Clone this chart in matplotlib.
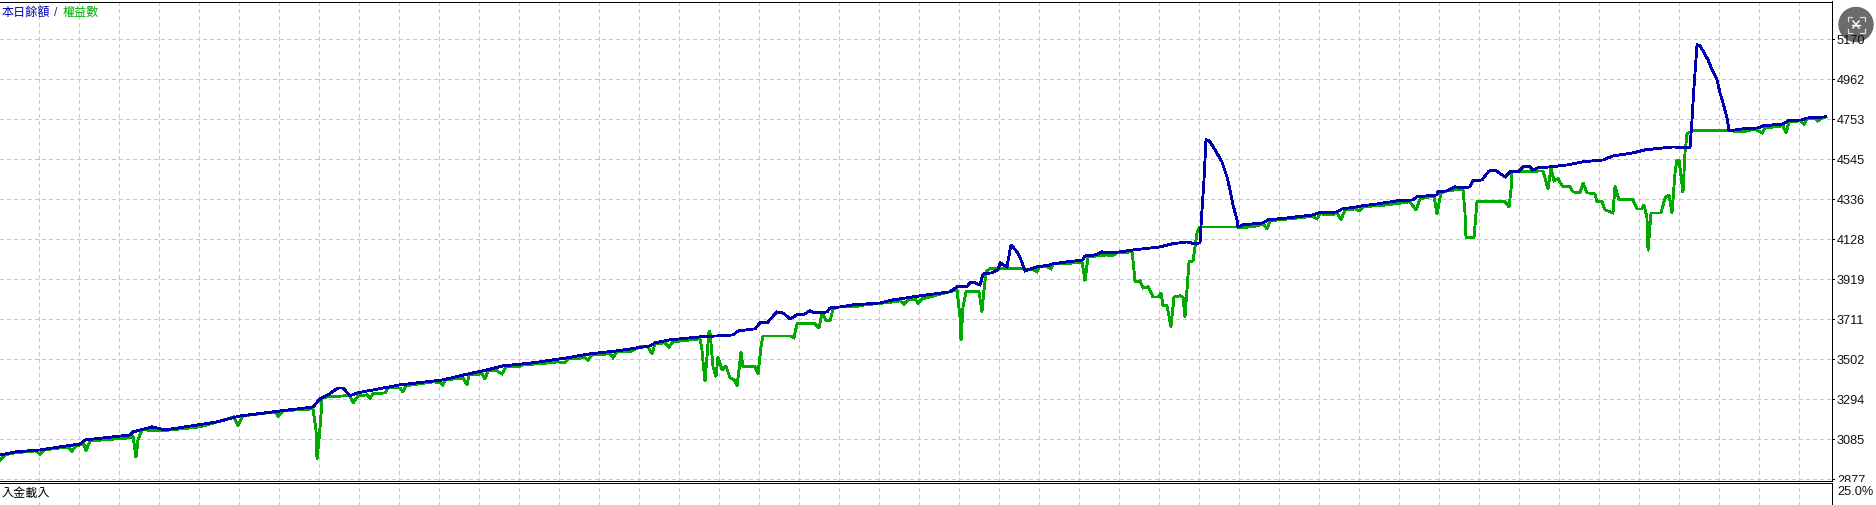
import matplotlib
matplotlib.use("Agg")
import matplotlib.pyplot as plt
from matplotlib.patches import Circle
from matplotlib.transforms import Bbox

W, H = 1876, 505

# balance curve (blue)
balance_x = [0, 16, 40, 60, 80, 85, 130, 133, 152, 165, 217, 240, 290, 313, 320, 328, 338, 343, 350, 357,
             400, 443, 468, 487, 503, 533, 567, 590, 617, 650, 655, 670, 700, 733, 738, 755, 760, 767, 777, 783,
             790, 797, 803, 810, 815, 827, 830, 840, 853, 880, 893, 920, 950, 957, 967, 970, 975, 980, 983, 992,
             998, 1000, 1007, 1011, 1017, 1021, 1025, 1037, 1050, 1052, 1067, 1083, 1085, 1095, 1102, 1107, 1120, 1133, 1160, 1172,
             1187, 1195, 1200, 1202, 1204, 1206, 1209, 1212, 1215, 1222, 1227, 1230, 1233, 1237, 1238, 1243, 1263, 1268, 1287, 1313,
             1318, 1337, 1342, 1357, 1362, 1377, 1397, 1413, 1417, 1437, 1438, 1447, 1455, 1463, 1470, 1473, 1482, 1489, 1495, 1505,
             1510, 1518, 1523, 1530, 1533, 1538, 1550, 1567, 1582, 1603, 1613, 1633, 1645, 1673, 1690, 1692, 1694, 1697, 1700, 1703,
             1708, 1713, 1717, 1720, 1723, 1727, 1729, 1742, 1758, 1763, 1783, 1788, 1802, 1807, 1826]
balance = [3002, 3018, 3028, 3044, 3059, 3080, 3106, 3122, 3148, 3132, 3174, 3205, 3237, 3252, 3294, 3315, 3351, 3351, 3310, 3325,
           3367, 3393, 3424, 3445, 3466, 3482, 3508, 3529, 3544, 3570, 3586, 3602, 3617, 3627, 3648, 3659, 3690, 3690, 3747, 3742,
           3711, 3732, 3732, 3753, 3742, 3747, 3768, 3773, 3784, 3794, 3810, 3831, 3852, 3878, 3878, 3899, 3899, 3888, 3945, 3951,
           3966, 4003, 3982, 4097, 4060, 4018, 3961, 3982, 3992, 3997, 4008, 4018, 4039, 4044, 4060, 4055, 4060, 4070, 4086, 4102,
           4112, 4102, 4107, 4279, 4435, 4644, 4639, 4618, 4592, 4529, 4451, 4383, 4305, 4227, 4190, 4201, 4211, 4227, 4237, 4253,
           4263, 4268, 4284, 4295, 4300, 4310, 4326, 4331, 4347, 4357, 4373, 4378, 4399, 4394, 4399, 4430, 4435, 4482, 4487, 4451,
           4477, 4477, 4503, 4503, 4487, 4498, 4503, 4513, 4529, 4539, 4560, 4576, 4592, 4607, 4602, 4748, 4920, 5139, 5134, 5108,
           5061, 4998, 4956, 4889, 4837, 4758, 4691, 4701, 4706, 4717, 4727, 4743, 4748, 4758, 4764]

# equity curve (green)
equity_x = [0, 5, 15, 36, 40, 44, 68, 72, 76, 84, 86, 90, 130, 133, 136, 138, 142, 160, 200, 234,
            238, 243, 275, 278, 283, 313, 316, 317, 319, 321, 322, 327, 345, 350, 353, 358, 367, 370, 373, 385,
            388, 400, 403, 406, 433, 441, 443, 445, 463, 467, 469, 482, 485, 488, 497, 502, 506, 518, 523, 550,
            557, 565, 568, 585, 588, 592, 610, 613, 617, 630, 640, 648, 652, 655, 665, 669, 673, 700, 702, 703,
            705, 707, 709, 710, 712, 713, 716, 718, 722, 726, 730, 734, 737, 739, 741, 743, 755, 758, 761, 763,
            790, 794, 797, 815, 819, 822, 826, 830, 833, 838, 853, 865, 893, 900, 904, 908, 915, 918, 922, 945,
            957, 960, 961, 963, 966, 979, 982, 984, 986, 990, 1025, 1033, 1037, 1039, 1047, 1051, 1053, 1063, 1082, 1085,
            1088, 1107, 1112, 1117, 1132, 1133, 1135, 1140, 1143, 1148, 1153, 1158, 1161, 1163, 1167, 1171, 1174, 1180, 1183, 1185,
            1187, 1189, 1193, 1197, 1200, 1238, 1243, 1248, 1258, 1263, 1267, 1270, 1288, 1307, 1313, 1317, 1320, 1332, 1337, 1341,
            1345, 1355, 1359, 1363, 1387, 1410, 1416, 1420, 1434, 1437, 1441, 1447, 1463, 1465, 1466, 1474, 1477, 1505, 1509, 1511,
            1512, 1543, 1548, 1551, 1554, 1558, 1563, 1570, 1573, 1580, 1583, 1587, 1595, 1597, 1602, 1605, 1613, 1615, 1619, 1633,
            1637, 1642, 1644, 1647, 1648, 1651, 1661, 1665, 1669, 1672, 1675, 1677, 1679, 1683, 1685, 1687, 1693, 1730, 1743, 1755,
            1762, 1765, 1783, 1786, 1789, 1800, 1804, 1807, 1815, 1818, 1822, 1826]
equity = [2976, 3002, 3013, 3023, 3007, 3028, 3044, 3023, 3049, 3059, 3023, 3075, 3091, 3101, 2987, 3080, 3133, 3127, 3148, 3200,
          3153, 3205, 3226, 3205, 3232, 3242, 3133, 2976, 3080, 3211, 3299, 3304, 3310, 3310, 3273, 3310, 3315, 3299, 3320, 3325,
          3351, 3351, 3330, 3362, 3383, 3377, 3367, 3393, 3403, 3367, 3419, 3424, 3398, 3440, 3440, 3424, 3461, 3461, 3471, 3482,
          3487, 3482, 3502, 3508, 3497, 3523, 3529, 3508, 3539, 3539, 3565, 3565, 3529, 3581, 3586, 3565, 3591, 3607, 3549, 3487,
          3383, 3513, 3648, 3643, 3523, 3461, 3409, 3513, 3445, 3466, 3403, 3393, 3362, 3445, 3539, 3461, 3461, 3424, 3565, 3622,
          3622, 3612, 3685, 3685, 3664, 3742, 3701, 3701, 3763, 3773, 3773, 3784, 3799, 3805, 3789, 3810, 3815, 3794, 3815, 3846,
          3862, 3721, 3596, 3773, 3852, 3852, 3747, 3862, 3956, 3972, 3972, 3966, 3956, 3982, 3982, 3972, 3997, 3997, 4008, 3909,
          4034, 4044, 4039, 4055, 4060, 4018, 3904, 3909, 3872, 3878, 3825, 3825, 3846, 3779, 3779, 3669, 3825, 3831, 3825, 3721,
          3862, 4008, 4013, 4159, 4190, 4190, 4185, 4190, 4196, 4206, 4180, 4222, 4232, 4242, 4242, 4232, 4258, 4253, 4263, 4227,
          4279, 4284, 4274, 4295, 4305, 4321, 4279, 4336, 4352, 4258, 4368, 4378, 4388, 4263, 4133, 4133, 4321, 4321, 4295, 4383,
          4477, 4482, 4388, 4498, 4430, 4440, 4399, 4399, 4373, 4368, 4420, 4368, 4362, 4321, 4321, 4279, 4263, 4404, 4331, 4331,
          4284, 4284, 4305, 4237, 4065, 4263, 4263, 4342, 4357, 4263, 4472, 4539, 4539, 4368, 4576, 4675, 4691, 4691, 4685, 4701,
          4680, 4706, 4717, 4680, 4737, 4743, 4727, 4753, 4758, 4743, 4758, 4764]

y_ticks = [5170, 4962, 4753, 4545, 4336, 4128, 3919, 3711, 3502, 3294, 3085, 2877]
x_grid = list(range(38, 1831, 40))

GRID = "#c8c8c8"
BLUE = "#0000b0"
GREEN = "#00aa00"
CJK = ["Noto Sans CJK TC", "DejaVu Sans"]
NUM = "Liberation Sans"


def px_rect(left, top, right, bottom):
    return [left / W, 1 - bottom / H, (right - left) / W, (bottom - top) / H]


fig = plt.figure(figsize=(W / 100, H / 100), dpi=100, facecolor="white")

# round fullscreen button, sits under the price labels
overlay = fig.add_axes([0, 0, 1, 1], facecolor="none", zorder=0)
overlay.set_xlim(0, W)
overlay.set_ylim(H, 0)
overlay.axis("off")
overlay.add_patch(Circle((1856, 24.5), 17, color="#6b6b6b", zorder=1))
for sx in (-1, 1):
    for sy in (-1, 1):
        overlay.plot([1856 + sx * 8.5, 1856 + sx * 8.5, 1856 + sx * 4], [24.5 + sy * 4, 24.5 + sy * 8, 24.5 + sy * 8],
                     color="#dddddd", lw=0.9, zorder=2)
overlay.plot([1853, 1859], [21, 28], color="white", lw=1.0, zorder=2)
overlay.plot([1859, 1853], [21, 28], color="white", lw=1.0, zorder=2)
overlay.plot([1852, 1860], [24.5, 24.5], color="white", lw=1.0, zorder=2)

ax = fig.add_axes(px_rect(0, 1.5, 1831.5, 480.5), zorder=1)
sub = fig.add_axes(px_rect(0, 483, 1831.5, 505), zorder=1)

for a in (ax, sub):
    a.set_xlim(0, 1831.5)
    a.set_xticks([])
    a.set_yticks([])
    a.spines["left"].set_visible(False)
    for s in a.spines.values():
        s.set_linewidth(0.72)
        s.set_antialiased(False)
    for x in x_grid:
        a.axvline(x + 0.5, color=GRID, lw=0.72, ls=(0, (3, 3)), antialiased=False, zorder=1)

ax.set_ylim(2868.6, 5365)
sub.set_ylim(0, 1)
sub.spines["bottom"].set_visible(False)

for v in y_ticks:
    ax.axhline(v, color=GRID, lw=0.72, ls=(0, (3, 3)), antialiased=False, zorder=1)

ax.plot(equity_x, equity, color=GREEN, lw=1.3, antialiased=False, solid_joinstyle="miter", zorder=3)
ax.plot(balance_x, balance, color=BLUE, lw=1.3, antialiased=False, solid_joinstyle="miter", zorder=4)

# right hand price scale, lowest label gets cut by the panel below
label_clip = Bbox([[0, H - 482], [W, H]])
for v in y_ticks:
    ax.plot([1831.5, 1834], [v, v], color="black", lw=0.72, clip_on=False, antialiased=False, zorder=5)
    t = ax.annotate(str(v), xy=(1837, v), xycoords=("data", "data"), annotation_clip=False,
                    xytext=(0, -2.5), textcoords="offset pixels", ha="left", va="center",
                    fontsize=9.2, family=NUM, color="#111111")
    t.set_clip_box(label_clip)
    t.set_clip_on(True)

# text at the top and bottom corners
fig.text(1.5 / W, 1 - 12.5 / H, "本日餘額", color=BLUE, fontsize=8.7, family=CJK, va="center")
fig.text(54 / W, 1 - 12.5 / H, "/", color="#303060", fontsize=8.7, family=NUM, va="center")
fig.text(63 / W, 1 - 12.5 / H, "權益數", color=GREEN, fontsize=8.7, family=CJK, va="center")
fig.text(1.5 / W, 1 - 493 / H, "入金載入", color="black", fontsize=8.7, family=CJK, va="center")
fig.text(1837 / W, 1 - 492 / H, "25.0%", color="#111111", fontsize=9.2, family=NUM, va="center")

ax.patch.set_visible(False)
sub.patch.set_visible(False)

fig.savefig("out.png", dpi=100)
